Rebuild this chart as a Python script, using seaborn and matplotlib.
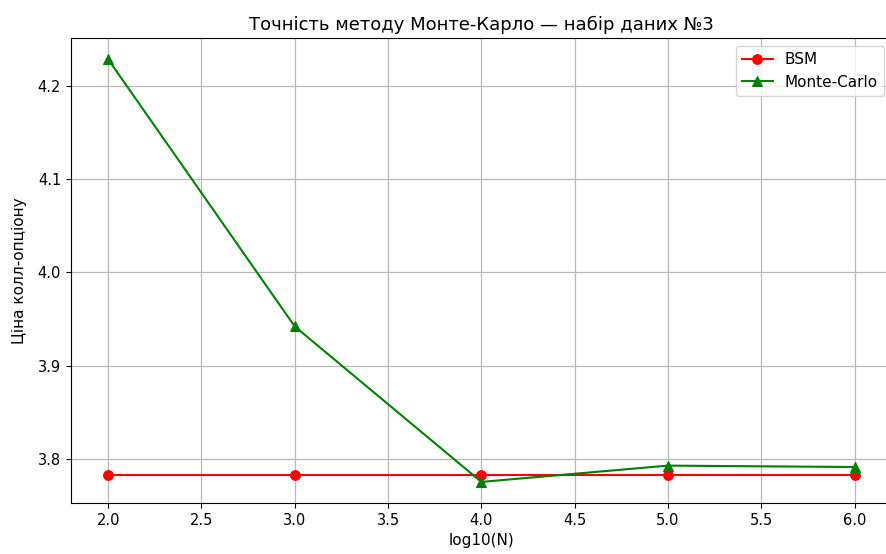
import matplotlib
matplotlib.use('Agg')
import pandas as pd
import seaborn as sns
import matplotlib.pyplot as plt

# Values
log_n = [2.0, 3.0, 4.0, 5.0, 6.0]
bsm_price = [3.7825, 3.7825, 3.7825, 3.7825, 3.7825]
mc_price = [4.229, 3.942, 3.775, 3.7925, 3.791]

df = pd.DataFrame({'log10(N)': log_n, 'BSM': bsm_price, 'Monte-Carlo': mc_price})

plt.rcParams['font.family'] = ['DejaVu Sans']

fig = plt.figure(figsize=(8.86, 5.54), dpi=100)
ax = fig.add_axes([0.080, 0.092, 0.9266, 0.839])

sns.lineplot(data=df, x='log10(N)', y='BSM', color='red', marker='o',
             markersize=7, markeredgecolor='red', label='BSM', ax=ax)
sns.lineplot(data=df, x='log10(N)', y='Monte-Carlo', color='green', marker='^',
             markersize=7, markeredgecolor='green', label='Monte-Carlo', ax=ax)

ax.set_title('Точність методу Монте-Карло — набір даних №3', fontsize=13)
ax.set_xlabel('log10(N)', fontsize=11)
ax.set_ylabel('Ціна колл-опціону', fontsize=11, labelpad=8)
ax.set_yticks([3.8, 3.9, 4.0, 4.1, 4.2])
ax.tick_params(labelsize=10.5)
ax.grid(True, color='#b8b8b8', linewidth=0.9)
ax.legend(loc='upper right', fontsize=11)

fig.savefig('out.png', dpi=100)
